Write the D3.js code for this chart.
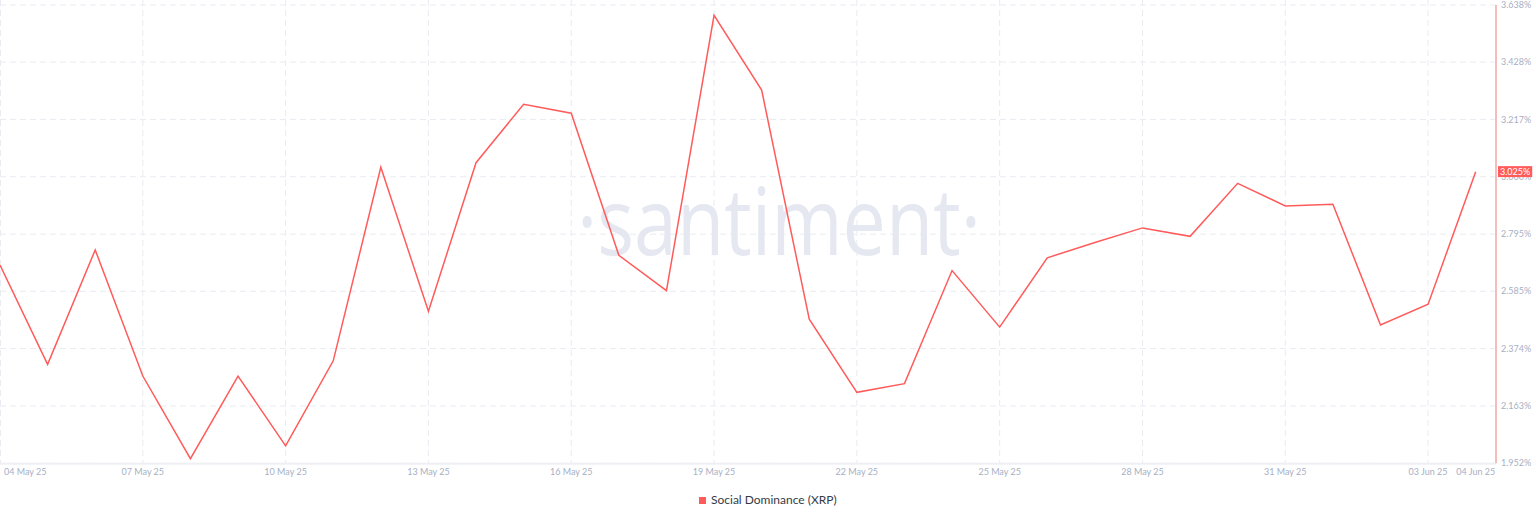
<!DOCTYPE html>
<html><head><meta charset="utf-8">
<script src="https://cdn.jsdelivr.net/npm/d3@7"></script>
<style>
html,body{margin:0;padding:0;background:#fff;}
svg{display:block;}
</style></head>
<body>
<svg id="chart" width="1536" height="520"></svg>
<script>
// ---- data ----
const dates = ["2025-05-04","2025-05-05","2025-05-06","2025-05-07","2025-05-08","2025-05-09","2025-05-10","2025-05-11","2025-05-12","2025-05-13","2025-05-14","2025-05-15","2025-05-16","2025-05-17","2025-05-18","2025-05-19","2025-05-20","2025-05-21","2025-05-22","2025-05-23","2025-05-24","2025-05-25","2025-05-26","2025-05-27","2025-05-28","2025-05-29","2025-05-30","2025-05-31","2025-06-01","2025-06-02","2025-06-03","2025-06-04"];
const socialDominance = [2.681,2.316,2.737,2.273,1.969,2.273,2.016,2.329,3.041,2.511,3.058,3.273,3.240,2.717,2.587,3.600,3.325,2.482,2.213,2.245,2.661,2.453,2.708,2.764,2.818,2.787,2.982,2.899,2.905,2.461,2.537,3.025];
const xTickDates = ["2025-05-04","2025-05-07","2025-05-10","2025-05-13","2025-05-16","2025-05-19","2025-05-22","2025-05-25","2025-05-28","2025-05-31","2025-06-03","2025-06-04"];
const xTickLabels = ["04 May 25","07 May 25","10 May 25","13 May 25","16 May 25","19 May 25","22 May 25","25 May 25","28 May 25","31 May 25","03 Jun 25","04 Jun 25"];
const yTicks = [1.952,2.163,2.374,2.585,2.795,3.006,3.217,3.428,3.638];
const yTickLabels = ["1.952%","2.163%","2.374%","2.585%","2.795%","3.006%","3.217%","3.428%","3.638%"];
const seriesName = "Social Dominance (XRP)";
const lastLabel = "3.025%";
const watermark = "·santiment·";

// ---- layout ----
const parse = d3.utcParse("%Y-%m-%d");
const svg = d3.select("#chart");
const axisX = 1496, plotTop = 5, plotBottom = 463.3;
const x = d3.scaleUtc().domain([parse(dates[0]), parse(dates[dates.length-1])]).range([0, 1475.7]);
const y = d3.scaleLinear().domain([yTicks[0], yTicks[yTicks.length-1]]).range([plotBottom, plotTop]);
const red = "#ff5b5b";
const gridColor = "#e9ebf1";
const labelColor = "#a7afc4";
const font = "Lato, 'Liberation Sans', sans-serif";

// horizontal grid
svg.append("g").selectAll("line").data(yTicks).join("line")
  .attr("x1", 0).attr("x2", axisX)
  .attr("y1", d => y(d)).attr("y2", d => y(d))
  .attr("stroke", gridColor).attr("stroke-width", 1).attr("stroke-dasharray", "6,4");

// vertical grid (all but last tick)
svg.append("g").selectAll("line").data(xTickDates.slice(0, -1)).join("line")
  .attr("x1", d => Math.max(0.5, x(parse(d)))).attr("x2", d => Math.max(0.5, x(parse(d))))
  .attr("y1", 0).attr("y2", plotBottom)
  .attr("stroke", gridColor).attr("stroke-width", 1).attr("stroke-dasharray", "6,4");

// x axis baseline
svg.append("line").attr("x1", 0).attr("x2", axisX).attr("y1", plotBottom + 0.5).attr("y2", plotBottom + 0.5)
  .attr("stroke", "#eef0f4").attr("stroke-width", 2);

// watermark
svg.append("text").attr("x", 577).attr("y", 255).attr("font-size", 94)
  .attr("font-family", "'Open Sans', sans-serif").attr("fill", "#e5e8f1")
  .attr("textLength", 404).attr("lengthAdjust", "spacingAndGlyphs").text(watermark);

// line
const line = d3.line().x((d, i) => x(parse(dates[i]))).y(d => y(d));
svg.append("path").datum(socialDominance).attr("d", line)
  .attr("fill", "none").attr("stroke", red).attr("stroke-width", 1.5).attr("stroke-linejoin", "miter");

// right axis line
svg.append("line").attr("x1", axisX).attr("x2", axisX).attr("y1", plotTop).attr("y2", plotBottom)
  .attr("stroke", "#f5bcbc").attr("stroke-width", 2);

// y tick labels
svg.append("g").selectAll("text").data(yTicks).join("text")
  .attr("x", axisX + 5).attr("y", d => y(d)).attr("dy", "0.35em")
  .attr("font-family", font).attr("font-size", 9)
  .attr("fill", labelColor).text((d, i) => yTickLabels[i]);

// x tick labels
const xl = svg.append("g").selectAll("text").data(xTickDates).join("text")
  .attr("y", 475).attr("font-family", font).attr("font-size", 9)
  .attr("fill", labelColor).text((d, i) => xTickLabels[i]);
xl.each(function(d) {
  const w = this.getComputedTextLength();
  let cx = x(parse(d));
  let left = cx - w / 2;
  if (left < 4) left = 4;
  if (left + w > axisX + 1) left = axisX + 1 - w;
  d3.select(this).attr("x", left);
});

// last value badge
const lastY = y(socialDominance[socialDominance.length - 1]);
const badge = svg.append("g");
const bt = badge.append("text").attr("x", axisX + 4).attr("y", lastY).attr("dy", "0.35em")
  .attr("font-family", font).attr("font-size", 9)
  .attr("fill", "#fff").text(lastLabel);
const bw = bt.node().getComputedTextLength();
badge.insert("rect", "text").attr("x", axisX + 2).attr("y", lastY - 5.5).attr("width", bw + 4).attr("height", 11)
  .attr("fill", red);

// legend
const lg = svg.append("g");
lg.append("text").attr("x", 711).attr("y", 500).attr("dy", "0.35em")
  .attr("font-family", font).attr("font-size", 12)
  .attr("fill", "#353b48").text(seriesName);
lg.append("rect").attr("x", 699).attr("y", 497).attr("width", 7).attr("height", 7).attr("fill", red);
</script>
</body></html>
